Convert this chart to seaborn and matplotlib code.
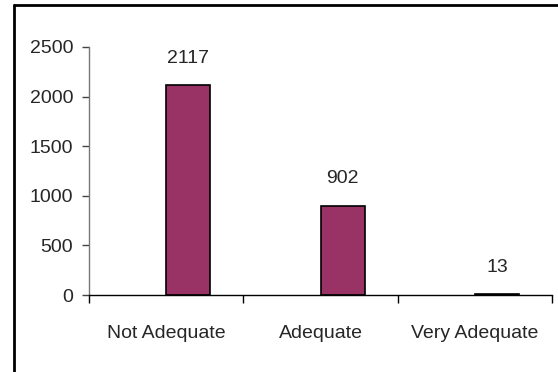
import matplotlib
matplotlib.use("Agg")
import matplotlib.pyplot as plt
import seaborn as sns
import pandas as pd
from matplotlib.lines import Line2D

categories = ["Not Adequate", "Adequate", "Very Adequate"]
counts = [2117, 902, 13]
y_ticks = [0, 500, 1000, 1500, 2000, 2500]

sns.set_style("white")
plt.rcParams["font.family"] = ["Liberation Sans Narrow", "Liberation Sans", "DejaVu Sans"]

FS = 14

df = pd.DataFrame({"category": categories, "count": counts})

fig = plt.figure(figsize=(5.58, 3.72), dpi=100)
ax = fig.add_axes([89 / 558, 1 - 295 / 372, 463 / 558, 248 / 372])

bar_w = 0.286
sns.barplot(data=df, x="category", y="count", color="#993366", width=bar_w,
            edgecolor="black", linewidth=1.2, saturation=1, ax=ax)

# bars sit to the right of each category centre
for p in ax.patches:
    p.set_x(p.get_x() + bar_w / 2)

for p, v in zip(ax.patches, counts):
    ax.annotate(str(v), (p.get_x() + p.get_width() / 2, v),
                xytext=(0, 13), textcoords="offset points",
                ha="center", va="bottom", fontsize=FS)

ax.set_xlim(-0.5, len(categories) - 0.5)
ax.set_ylim(0, 2500)
ax.set_yticks(y_ticks)
ax.set_yticklabels([str(t) for t in y_ticks], fontsize=FS)
ax.set_xlabel("")
ax.set_ylabel("")

# category boundaries carry the x tick marks; labels sit at the centres
ax.set_xticks([i - 0.5 for i in range(len(categories) + 1)], minor=False)
ax.set_xticklabels([""] * (len(categories) + 1))
ax.set_xticks(range(len(categories)), minor=True)
ax.set_xticklabels(categories, minor=True, fontsize=FS)
ax.tick_params(axis="x", which="major", direction="out", length=6, width=1,
               color="black", bottom=True)
ax.tick_params(axis="x", which="minor", length=0, pad=21.5, bottom=True)
ax.tick_params(axis="y", direction="out", length=5, width=1, color="#444444",
               left=True, pad=6.5)

for s in ["top", "right"]:
    ax.spines[s].set_visible(False)
ax.spines["left"].set_color("#777777")
ax.spines["left"].set_linewidth(1)
ax.spines["bottom"].set_color("black")
ax.spines["bottom"].set_linewidth(1)

# chart-area frame (top and left edges)
fig.add_artist(Line2D([14 / 558, 14 / 558], [0, 1 - 5 / 372], color="black",
                      linewidth=2, transform=fig.transFigure))
fig.add_artist(Line2D([14 / 558, 1], [1 - 5 / 372, 1 - 5 / 372], color="black",
                      linewidth=2, transform=fig.transFigure))

fig.savefig("out.png", dpi=100)
